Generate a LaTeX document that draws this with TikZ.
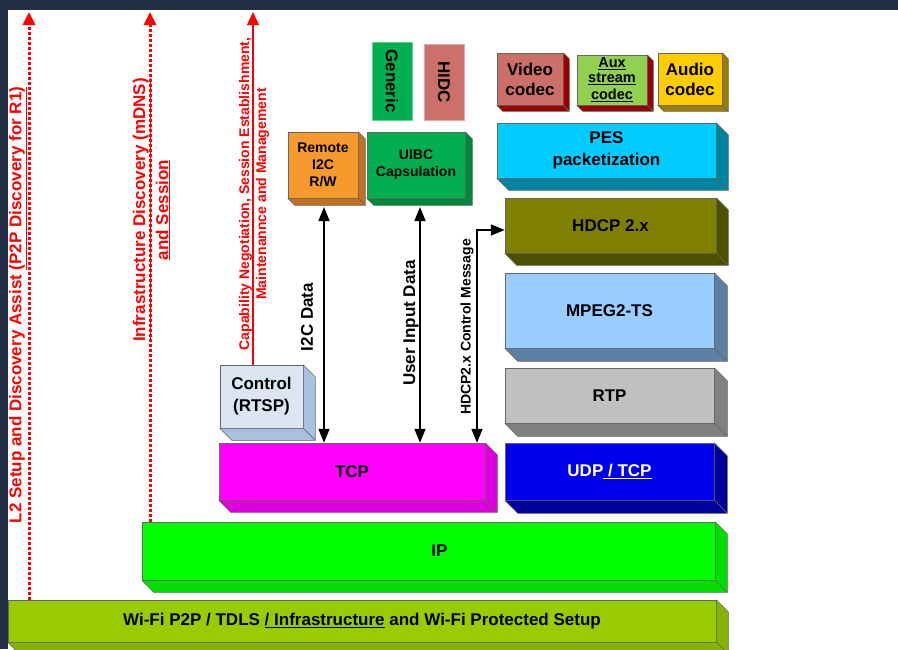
\documentclass[tikz,border=0pt]{standalone}
\usepackage{fontspec}
\setmainfont{Liberation Sans}
\usetikzlibrary{arrows.meta}

\definecolor{frame}{HTML}{232F45}
\definecolor{wifiF}{HTML}{99CC00}  \definecolor{wifiS}{HTML}{86B300}
\definecolor{ipF}{HTML}{00FF00}    \definecolor{ipS}{HTML}{00DD00}
\definecolor{tcpF}{HTML}{FF00FF}   \definecolor{tcpS}{HTML}{DD00DD}
\definecolor{udpF}{HTML}{0000EE}   \definecolor{udpS}{HTML}{00009A}
\definecolor{rtpF}{HTML}{C0C0C0}   \definecolor{rtpS}{HTML}{808080}
\definecolor{mpegF}{HTML}{99CCFF}  \definecolor{mpegS}{HTML}{5C7FA3}
\definecolor{hdcpF}{HTML}{808000}  \definecolor{hdcpS}{HTML}{4F4F00}
\definecolor{pesF}{HTML}{00CCFF}   \definecolor{pesS}{HTML}{00839F}
\definecolor{videoF}{HTML}{CC6E6A} \definecolor{codecS}{HTML}{990000}
\definecolor{auxF}{HTML}{92D050}
\definecolor{audioF}{HTML}{FFCC00} \definecolor{audioS}{HTML}{9C7C00}
\definecolor{i2cF}{HTML}{F79A2E}   \definecolor{i2cS}{HTML}{C07020}
\definecolor{uibcF}{HTML}{00B050}  \definecolor{uibcS}{HTML}{00873C}
\definecolor{rtspF}{HTML}{DCE6F2}  \definecolor{rtspS}{HTML}{A9C0DF}
\definecolor{hidcF}{HTML}{CC706B}

% side and bottom faces of a layer box: node, colour, depth
\newcommand{\extrude}[3]{%
  \filldraw[fill=#2, draw=black!60, line width=0.5pt, line join=round]
    (#1.north east) -- ++(#3,#3) -- ([shift={(#3,#3)}]#1.south east) -- (#1.south east) -- cycle;
  \filldraw[fill=#2, draw=black!60, line width=0.5pt, line join=round]
    (#1.south west) -- ++(#3,#3) -- ([shift={(#3,#3)}]#1.south east) -- (#1.south east) -- cycle;
}

\begin{document}
\begin{tikzpicture}[x=1pt, y=-1pt,
    layer/.style ={draw=black!60, line width=0.5pt, align=center, inner sep=0pt,
                   font=\fontsize{17}{22}\selectfont\bfseries},
    small/.style ={font=\fontsize{14}{17}\selectfont\bfseries},
    dataflow/.style ={line width=1.6pt, {Triangle[width=11pt,length=14pt]}-{Triangle[width=11pt,length=14pt]}},
    discovery/.style ={red, line width=3pt, dash pattern=on 3pt off 2pt, -{Triangle[width=12pt,length=13pt]}},
    session/.style ={red, line width=1.5pt, -{Triangle[width=12pt,length=13pt]}},
    redtext/.style ={red, rotate=90, align=center, inner sep=0pt, font=\fontsize{17}{23}\selectfont\bfseries},
    flowtext/.style ={rotate=90, inner sep=0pt, font=\fontsize{17}{20}\selectfont\bfseries}]
   \useasboundingbox (0,0) rectangle (898,649);
   \fill[frame] (0,0) rectangle (898,649);
   \fill[white] (8,10) rectangle (898,649);

   % protocol stack
   \node[layer, fill=wifiF, minimum width=708, minimum height=42] (wifi) at (362,621)
     {Wi-Fi P2P / TDLS \underline{/ Infrastructure} and Wi-Fi Protected Setup};
   \node[layer, fill=ipF, minimum width=573, minimum height=58] (ip) at (428.5,551) {\hspace{22pt}IP};
   \node[layer, fill=tcpF, minimum width=266, minimum height=57] (tcp) at (352,471.5) {TCP};
   \node[layer, fill=udpF, text=white, minimum width=209, minimum height=57] (udp) at (609.5,471.5)
     {UDP\underline{ / TCP}};
   \node[layer, fill=rtpF, minimum width=209, minimum height=55] (rtp) at (609.5,395.5) {RTP};
   \node[layer, fill=mpegF, minimum width=209, minimum height=75] (mpeg) at (609.5,310.5) {MPEG2-TS};
   \node[layer, fill=hdcpF, minimum width=211, minimum height=55] (hdcp) at (610.5,225.5) {HDCP 2.x};
   \node[layer, fill=pesF, minimum width=219, minimum height=55] (pes) at (606.5,150.5) {PES\\packetization};
   \node[layer, fill=videoF, minimum width=66, minimum height=52] (video) at (530,79) {Video\\[-2pt]codec};
   \node[layer, fill=auxF, font=\fontsize{14.5}{17.5}\selectfont\bfseries, minimum width=70, minimum height=50] (aux) at (612,80)
     {\raisebox{-3pt}{\underline{Aux}}\\\underline{stream}\\\underline{codec}};
   \node[layer, fill=audioF, minimum width=64, minimum height=52] (audio) at (690,79) {Audio\\[-2pt]codec};
   \node[layer, small, fill=i2cF, minimum width=70, minimum height=66] (remote) at (323,165) {Remote\\I2C\\R/W};
   \node[layer, small, fill=uibcF, minimum width=98, minimum height=66] (uibc) at (416,165) {UIBC\\Capsulation};
   \node[layer, fill=rtspF, minimum width=83, minimum height=63] (rtsp) at (261.5,396.5) {Control\\(RTSP)};
   \node[layer, fill=uibcF, draw=uibcF!60, rotate=-90, minimum width=78, minimum height=40] (generic) at (392,81) {Generic};
   \node[layer, fill=hidcF, draw=hidcF!60, rotate=-90, minimum width=76, minimum height=40] (hidc) at (444,82) {HIDC};

   \extrude{wifi}{wifiS}{12}
   \extrude{ip}{ipS}{12}
   \extrude{tcp}{tcpS}{12}
   \extrude{udp}{udpS}{13}
   \extrude{rtp}{rtpS}{13}
   \extrude{mpeg}{mpegS}{13}
   \extrude{hdcp}{hdcpS}{12}
   \extrude{pes}{pesS}{12}
   \extrude{video}{codecS}{6}
   \extrude{aux}{codecS}{6}
   \extrude{audio}{audioS}{6}
   \extrude{remote}{i2cS}{7}
   \extrude{uibc}{uibcS}{7}
   \extrude{rtsp}{rtspS}{12}

   % data paths to TCP and HDCP
   \coordinate (i2cx) at (324,0);
   \coordinate (userx) at (420,0);
   \coordinate (hmsg) at (477,230);
   \draw[dataflow] (i2cx |- 0,207) -- (i2cx |- tcp.north);
   \draw[dataflow] (userx |- 0,207) -- (userx |- tcp.north);
   \draw[dataflow] (hmsg |- tcp.north) -- (hmsg) -- (hmsg -| hdcp.west);
   \node[flowtext] (i2clbl) at (307,317) {I2C Data};
   \node[flowtext] (userlbl) at (411,323) {User Input Data};
   \node[flowtext, font=\fontsize{14}{17}\selectfont\bfseries] (hmsglbl) at (467,327) {HDCP2.x Control Message};

   % discovery and session lines
   \coordinate (l2top) at (29,12);
   \coordinate (infratop) at (150,12);
   \coordinate (captop) at (253,12);
   \draw[discovery] (l2top |- wifi.north) -- (l2top);
   \draw[discovery] (infratop |- ip.north) -- (infratop);
   \draw[session] (captop |- rtsp.north) -- (captop);
   \node[redtext] (l2lbl) at (18,305) {L2 Setup and Discovery Assist \underline{(P2P Discovery for R1)}};
   \node[redtext] (infralbl) at (151.5,210) {\underline{Infrastructure Discovery (mDNS)}\\\underline{and Session}};
   \node[redtext, font=\fontsize{14}{17}\selectfont\bfseries] (caplbl) at (254,194)
     {Capability Negotiation, Session Establishment,\\Maintenannce and Management};
\end{tikzpicture}
\end{document}
